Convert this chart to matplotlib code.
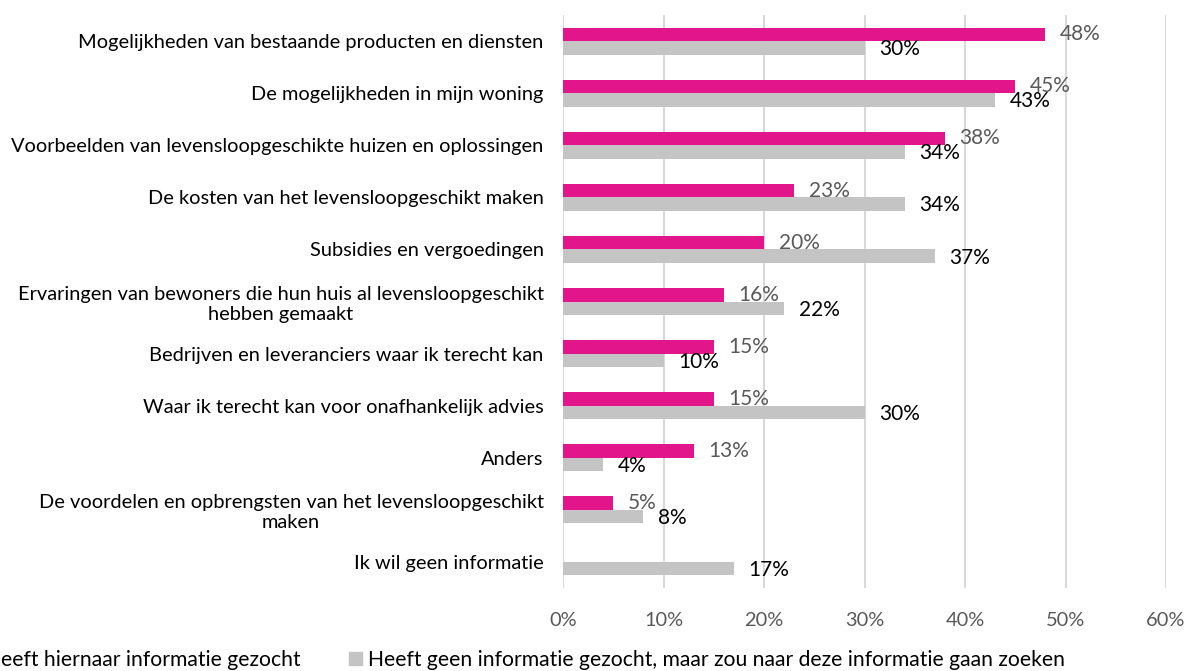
import matplotlib
matplotlib.use("Agg")
import matplotlib.pyplot as plt
import numpy as np
from matplotlib.patches import Patch

# Data (percentages)
categories = [
    "Mogelijkheden van bestaande producten en diensten",
    "De mogelijkheden in mijn woning",
    "Voorbeelden van levensloopgeschikte huizen en oplossingen",
    "De kosten van het levensloopgeschikt maken",
    "Subsidies en vergoedingen",
    "Ervaringen van bewoners die hun huis al levensloopgeschikt\nhebben gemaakt",
    "Bedrijven en leveranciers waar ik terecht kan",
    "Waar ik terecht kan voor onafhankelijk advies",
    "Anders",
    "De voordelen en opbrengsten van het levensloopgeschikt\nmaken",
    "Ik wil geen informatie",
]
gezocht = [48, 45, 38, 23, 20, 16, 15, 15, 13, 5, 0]
zou_zoeken = [30, 43, 34, 34, 37, 22, 10, 30, 4, 8, 17]
series_names = ["Heeft hiernaar informatie gezocht",
                "Heeft geen informatie gezocht, maar zou naar deze informatie gaan zoeken"]
xticks = [0, 10, 20, 30, 40, 50, 60]

PINK = "#E2168A"
GREY = "#C4C4C4"
plt.rcParams["font.family"] = ["Lato", "DejaVu Sans"]

fig = plt.figure(figsize=(11.89, 6.71), dpi=100)
ax = fig.add_axes([563 / 1189, 1 - 588 / 671, 603 / 1189, 573 / 671])

y = np.arange(len(categories))
h = 0.26
ax.barh(y - h / 2, gezocht, height=h, color=PINK, zorder=3)
ax.barh(y + h / 2, zou_zoeken, height=h, color=GREY, zorder=3)

for yi, v in zip(y, gezocht):
    if v > 0:
        ax.annotate(f"{v}%", (v, yi - h / 2), xytext=(10.5, 0), textcoords="offset points",
                    va="center", ha="left", fontsize=15, color="#595959")
for yi, v in zip(y, zou_zoeken):
    ax.annotate(f"{v}%", (v, yi + h / 2), xytext=(10.5, -1), textcoords="offset points",
                va="center", ha="left", fontsize=15, color="black")

ax.set_xlim(0, 60)
ax.set_ylim(len(categories) - 0.5, -0.5)
ax.set_xticks(xticks)
ax.set_xticklabels([f"{t}%" for t in xticks], color="#595959", fontsize=14.4)
ax.set_yticks(y)
ax.set_yticklabels(categories, fontsize=14.4, color="black", multialignment="center")
ax.tick_params(axis="x", length=0, pad=17)
ax.tick_params(axis="y", length=0, pad=14)
ax.grid(axis="x", color="#D9D9D9", linewidth=1.5, zorder=0)
for s in ax.spines.values():
    s.set_visible(False)

# legend runs off the left edge, like in the original export
handles = [Patch(color=PINK), Patch(color=GREY)]
fig.legend(handles, series_names, loc="center left", bbox_to_anchor=(-34 / 1189, 1 - 660 / 671),
           ncol=2, frameon=False, fontsize=15.2, borderpad=0, borderaxespad=0,
           handlelength=0.6, handleheight=0.6, handletextpad=0.3, columnspacing=2.3)

fig.savefig("out.png", dpi=100)
